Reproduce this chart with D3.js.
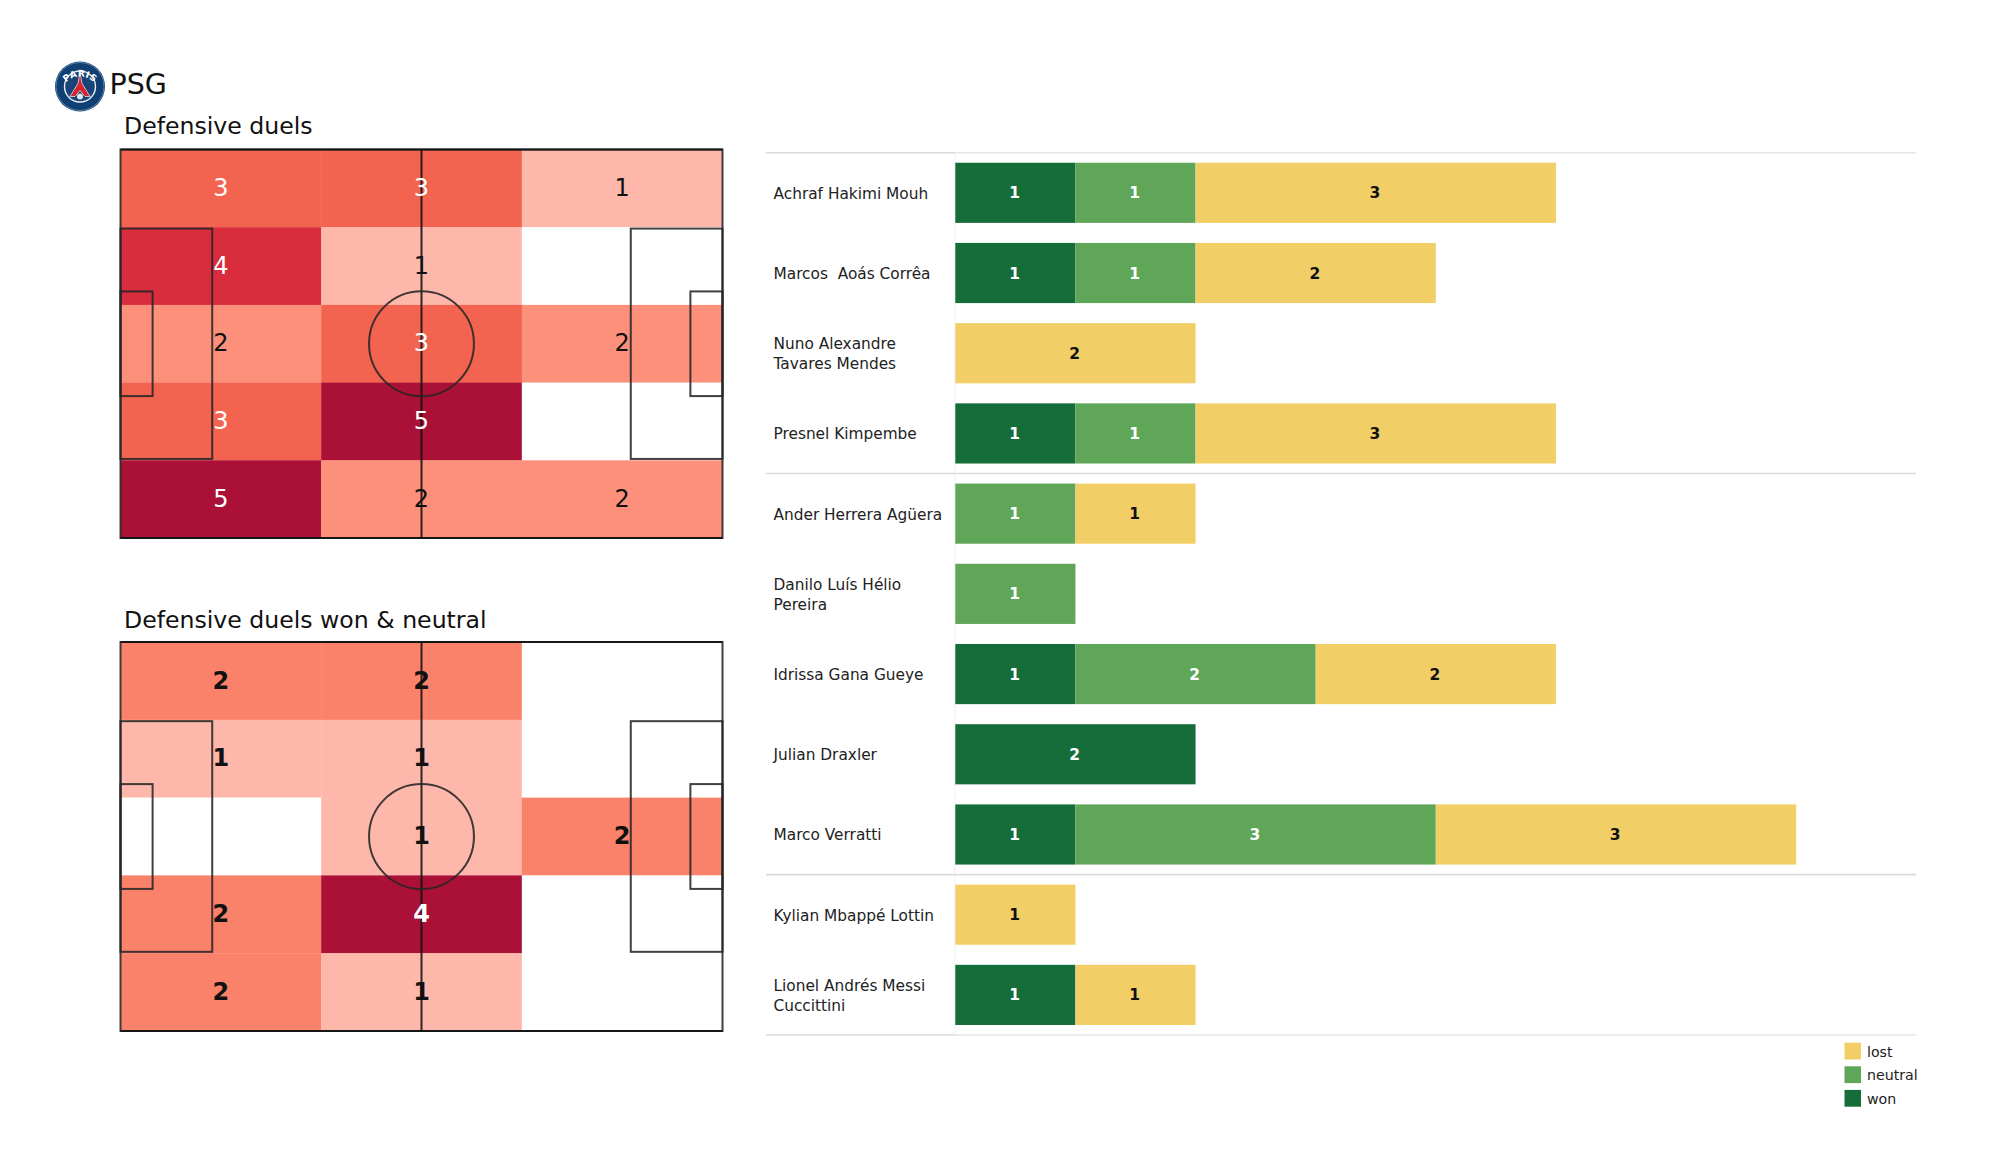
<!DOCTYPE html>
<html><head><meta charset="utf-8">
<script src="https://cdnjs.cloudflare.com/ajax/libs/d3/7.8.5/d3.min.js"></script>
<style>html,body{margin:0;background:#fff}svg{display:block}text{font-family:"DejaVu Sans",sans-serif}</style>
</head><body><svg id="c" width="2000" height="1175"></svg>
<script>
const teamName = "PSG";
const pitchTitles = ["Defensive duels", "Defensive duels won & neutral"];
const duelsAll = [[3,3,1],[4,1,0],[2,3,2],[3,5,0],[5,2,2]];
const duelsWon = [[2,2,0],[1,1,0],[0,1,2],[2,4,0],[2,1,0]];
const heatColors1 = ["#ffffff","#feb8ab","#fc907a","#f26450","#d92d3e","#ab1036"];
const heatColors2 = ["#ffffff","#feb8ab","#fb826a","#ab1036","#ab1036"];
const players = ["Achraf Hakimi Mouh","Marcos  Aoás Corrêa","Nuno Alexandre\nTavares Mendes","Presnel Kimpembe","Ander Herrera Agüera","Danilo Luís Hélio\nPereira","Idrissa Gana Gueye","Julian Draxler","Marco Verratti","Kylian Mbappé Lottin","Lionel Andrés Messi\nCuccittini"];
const won     = [1,1,0,1,0,0,1,2,1,0,1];
const neutral = [1,1,0,1,1,1,2,0,3,0,0];
const lost    = [3,2,2,3,1,0,2,0,3,1,1];
const outcomes = ["won","neutral","lost"];
const outcomeColors = ["#156d3a","#60a658","#f1cf66"];
const legendOrder = ["lost","neutral","won"];
const groupSizes = [4,5,2];

const svg = d3.select("#c");

// ---- title and badge
const badge = svg.append("g").attr("transform","translate(80,86.5)");
badge.append("circle").attr("r",25).attr("fill","#0f3f73");
badge.append("circle").attr("r",24).attr("fill","none").attr("stroke","#6f93b5").attr("stroke-width",.8);
badge.append("circle").attr("r",15.5).attr("fill","#17457a").attr("stroke","#e8eef4").attr("stroke-width",1.4);
badge.append("path").attr("d",d3.line()([[0,-14],[2,-3],[10,10],[5,10],[0,4],[-5,10],[-10,10],[-2,-3]])+"Z").attr("fill","#d8222f").attr("stroke","#f4f4f4").attr("stroke-width",.7);
badge.append("circle").attr("cy",10).attr("r",3).attr("fill","#dfe6ee");
badge.append("path").attr("id","arcP").attr("d","M-19,5 A19.5,19.5 0 0 1 19,5").attr("fill","none");
badge.append("text").attr("font-size",9).attr("font-weight","bold").attr("fill","#fff").attr("letter-spacing",.4)
  .append("textPath").attr("href","#arcP").attr("startOffset","50%").attr("text-anchor","middle").text("PARIS");
svg.append("text").attr("x",109.5).attr("y",94).attr("font-size",28.5).attr("fill","#111").text(teamName);

// ---- pitches
function pitch(top, bottom, title, titleY, data, colors, bold, whiteFrom){
  const x = d3.scaleLinear().domain([0,105]).range([120.5,722.5]);
  const y = d3.scaleLinear().domain([0,68]).range([top,bottom]);
  const g = svg.append("g");
  g.append("text").attr("x",124).attr("y",titleY).attr("font-size",23.6).attr("fill","#111").text(title);
  const colX = d3.scaleBand().domain(d3.range(3)).range([0,105]);
  const rowY = d3.scaleBand().domain(d3.range(5)).range([0,68]);
  const cells = data.flatMap((r,i)=>r.map((v,j)=>({v,i,j})));
  g.selectAll("rect.cell").data(cells).join("rect").attr("class","cell")
    .attr("x",d=>x(colX(d.j))).attr("y",d=>y(rowY(d.i)))
    .attr("width",x(35)-x(0)+.3).attr("height",y(13.6)-y(0)+.3)
    .attr("fill",d=>colors[d.v]);
  const line = g.append("g").attr("fill","none").attr("stroke","#262626").attr("stroke-width",2).attr("stroke-opacity",.88);
  const box=(x0,x1,h)=>line.append("rect").attr("x",x(x0)).attr("y",y(34-h/2)).attr("width",x(x1)-x(x0)).attr("height",y(34+h/2)-y(34-h/2));
  box(0,105,68); box(0,16,40.32); box(89,105,40.32); box(0,5.6,18.32); box(99.4,105,18.32);
  line.append("line").attr("x1",x(0)).attr("x2",x(105)).attr("y1",y(0)).attr("y2",y(0)).attr("stroke","#111");
  line.append("line").attr("x1",x(0)).attr("x2",x(105)).attr("y1",y(68)).attr("y2",y(68)).attr("stroke","#111");
  line.append("line").attr("x1",x(52.5)).attr("x2",x(52.5)).attr("y1",y(0)).attr("y2",y(68)).attr("stroke","#111");
  line.append("circle").attr("cx",x(52.5)).attr("cy",y(34)).attr("r",x(9.15)-x(0));
  g.selectAll("text.val").data(cells.filter(d=>d.v>0)).join("text").attr("class","val")
    .attr("x",d=>x(colX(d.j)+17.5)).attr("y",d=>y(rowY(d.i)+6.8)).attr("dy","0.32em")
    .attr("text-anchor","middle").attr("font-size",24).attr("font-weight",bold?"bold":"normal")
    .attr("fill",d=>d.v>=whiteFrom?"#fff":"#111").text(d=>d.v);
}
pitch(149.5,538,pitchTitles[0],134,duelsAll,heatColors1,false,3);
pitch(642,1031,pitchTitles[1],628,duelsWon,heatColors2,true,3);

// ---- stacked bars
const rows = players.map((p,i)=>({player:p,won:won[i],neutral:neutral[i],lost:lost[i]}));
const bx = d3.scaleLinear().domain([0,8]).range([955.3,1916.3]);
const by = d3.scaleBand().domain(players).range([152.7,1035]).paddingInner(.25).paddingOuter(.125);
const color = d3.scaleOrdinal(outcomes,outcomeColors);
const sepY = i=>152.7+i*by.step();
const seps = [0,...d3.cumsum(groupSizes)];
svg.append("g").selectAll("line").data(seps).join("line")
  .attr("x1",955).attr("x2",1916).attr("y1",sepY).attr("y2",sepY).attr("stroke",(d,i)=>(i==1||i==2)?"#dcdcdc":"#e6e6e6").attr("stroke-width",1.6);
svg.append("g").selectAll("line").data(seps).join("line")
  .attr("x1",766).attr("x2",955).attr("y1",sepY).attr("y2",sepY).attr("stroke","#d9d9d9").attr("stroke-width",1.6);
svg.append("line").attr("x1",955).attr("x2",955).attr("y1",152.7).attr("y2",1035).attr("stroke","#efefef").attr("stroke-width",1);

const series = d3.stack().keys(outcomes)(rows);
const sg = svg.append("g").selectAll("g").data(series).join("g").attr("fill",d=>color(d.key));
sg.selectAll("rect").data(d=>d.filter(e=>e[1]>e[0])).join("rect")
  .attr("x",d=>bx(d[0])).attr("y",d=>by(d.data.player)).attr("width",d=>bx(d[1])-bx(d[0])).attr("height",by.bandwidth());
sg.selectAll("text").data(d=>d.filter(e=>e[1]>e[0]).map(e=>Object.assign(e,{key:d.key}))).join("text")
  .attr("x",d=>bx((d[0]+d[1])/2)-.8).attr("y",d=>by(d.data.player)+by.bandwidth()/2).attr("dy","0.36em")
  .attr("text-anchor","middle").attr("font-size",15.5).attr("font-weight","bold")
  .attr("fill",d=>d.key==="lost"?"#111":"#fff").text(d=>d[1]-d[0]);

// player labels
const lab = svg.append("g").selectAll("text").data(players).join("text")
  .attr("x",773.5).attr("font-size",15.35).attr("fill","#222").style("white-space","pre");
lab.each(function(p){
  const parts = p.split("\n"), cy = by(p)+by.bandwidth()/2+.4;
  d3.select(this).selectAll("tspan").data(parts).join("tspan").attr("x",773.5)
    .attr("y",(d,i)=>cy+(i-(parts.length-1)/2)*20.3).attr("dy","0.36em").text(d=>d);
});

// legend
const lg = svg.append("g").selectAll("g").data(legendOrder).join("g")
  .attr("transform",(d,i)=>`translate(1844.5,${1042.7+i*23.6})`);
lg.append("rect").attr("width",16.5).attr("height",16.8).attr("fill",d=>color(d));
lg.append("text").attr("x",22.5).attr("y",9).attr("dy","0.36em").attr("font-size",14.2).attr("fill","#222").text(d=>d);
</script></body></html>
